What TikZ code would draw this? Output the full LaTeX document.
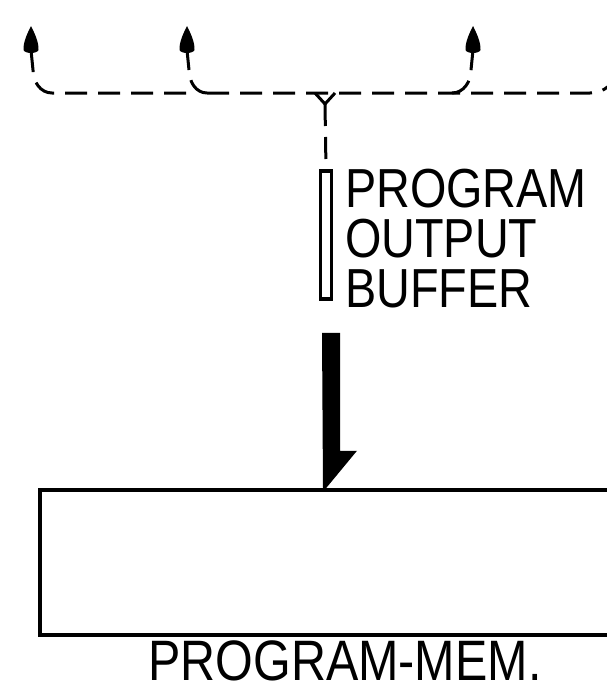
\documentclass[tikz,border=0pt]{standalone}
\usepackage{fontspec}
\newfontfamily\condfont[FakeStretch=0.85]{Liberation Sans}
\usetikzlibrary{arrows.meta,positioning,calc}
\tikzset{
  bus/.style={line width=3pt, dash pattern=on 22pt off 11pt},
  stem/.style={line width=3pt},
  bufbox/.style={draw, line width=3.5pt, minimum width=11pt, minimum height=128pt, inner sep=0pt},
  membox/.style={draw, line width=3.5pt, minimum width=600pt, minimum height=145pt, inner sep=0pt},
  lbl/.style={font=\condfont\fontsize{55}{50}\selectfont, align=left, inner sep=0pt},
  memlbl/.style={font=\condfont\fontsize{57}{60}\selectfont, inner sep=0pt},
}
\begin{document}
\begin{tikzpicture}[x=1pt,y=-1pt]
  \useasboundingbox (0,0) rectangle (607,688);
  \clip (0,0) rectangle (607,688);
  % output bus
  \coordinate (a1) at (31,26);
  \coordinate (a2) at (187,26);
  \coordinate (a3) at (473,26);
  \coordinate (fork) at (325,104);
  \foreach \t in {a1,a2,a3}
    {\fill (\t) .. controls ($(\t)+(3,6)$) and ($(\t)+(8,16)$) .. ($(\t)+(7.5,24)$)
       .. controls ($(\t)+(6,28)$) and ($(\t)+(-6,28)$) .. ($(\t)+(-7.5,24)$)
       .. controls ($(\t)+(-8,16)$) and ($(\t)+(-3,6)$) .. (\t);}
  \draw[bus] (186,93) -- (52,93) to[out=180,in=-90] (33,70);
  \draw[stem] (33,70) -- ($(a1)+(0,24)$);
  \draw[bus] (207,93) to[out=180,in=-90] (189,70);
  \draw[stem] (189,70) -- ($(a2)+(0,24)$);
  \draw[bus] (452,93) to[out=0,in=-90] (471,70);
  \draw[stem] (471,70) -- ($(a3)+(0,24)$);
  \draw[bus] (207,93) -- (590,93) to[out=0,in=-90] (616,70);
  \draw[stem] (315,93) -- (fork) -- (335,93);
  % buffer
  \node[bufbox] (buf) at (326,235) {};
  \node[lbl, anchor=north west] (buflbl) at (345,169) {PROGRAM\\OUTPUT\\BUFFER};
  \draw[bus] (fork) -- (buf.north);
  % program memory
  \node[membox] (mem) at (340,562.5) {};
  \node[memlbl, anchor=north] (memlbl) at (345,640) {PROGRAM-MEM.};
  \coordinate (tip) at (buf.south |- mem.north);
  \fill ($(buf.south)+(-4,32)$) -- ++(18,0) -- ++(0,118) -- ++(17,0) -- (tip) -- ++(-3,0) -- cycle;
\end{tikzpicture}
\end{document}
